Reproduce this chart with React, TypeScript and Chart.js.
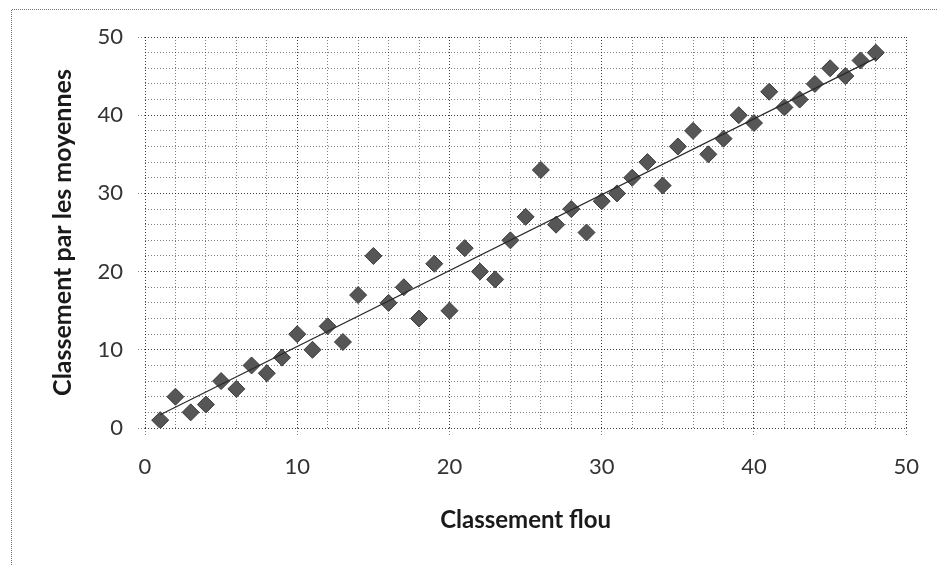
import React, { useEffect, useRef } from "react";
import { Chart, registerables } from "chart.js";
Chart.register(...registerables);

// Data
const rankFlou = [
  1, 2, 3, 4, 5, 6, 7, 8, 9, 10, 11, 12, 13, 14, 15, 16, 17, 18, 19, 20, 21, 22, 23, 24,
  25, 26, 27, 28, 29, 30, 31, 32, 33, 34, 35, 36, 37, 38, 39, 40, 41, 42, 43, 44, 45, 46, 47, 48,
];
const rankMoyennes = [
  1, 4, 2, 3, 6, 5, 8, 7, 9, 12, 10, 13, 11, 17, 22, 16, 18, 14, 21, 15, 23, 20, 19, 24,
  27, 33, 26, 28, 25, 29, 30, 32, 34, 31, 36, 38, 35, 37, 40, 39, 43, 41, 42, 44, 46, 45, 47, 48,
];
const trendX = [1, 48];
const trendY = [1.7, 47.3];
const axisMin = 0;
const axisMax = 50;
const gridStep = 2;
const labelStep = 10;
const xTitle = "Classement flou";
const yTitle = "Classement par les moyennes";

const MAJOR = "rgba(0,0,0,0.75)";
const MINOR = "rgba(0,0,0,0.5)";

export default function App() {
  const ref = useRef<HTMLCanvasElement>(null);

  useEffect(() => {
    if (!ref.current) return;
    const framePlugin = {
      id: "frame",
      beforeDraw(chart: any) {
        const c = chart.ctx;
        c.save();
        c.fillStyle = "#ffffff";
        c.fillRect(0, 0, chart.width, chart.height);
        c.strokeStyle = "rgba(0,0,0,0.55)";
        c.lineWidth = 1;
        c.setLineDash([1, 1]);
        c.beginPath();
        c.moveTo(11.5, chart.height);
        c.lineTo(11.5, 9.5);
        c.lineTo(chart.width, 9.5);
        c.stroke();
        c.restore();
      },
    };

    const isMajor = (ctx: any) => ctx.tick && Math.round(ctx.tick.value) % labelStep === 0;
    const gridColor = (ctx: any) => (isMajor(ctx) ? MAJOR : MINOR);
    const tickColor = (ctx: any) => (isMajor(ctx) ? MINOR : "rgba(0,0,0,0)");
    const labelCb = (v: any) => (Math.round(Number(v)) % labelStep === 0 ? String(v) : "");

    const tickFont = { family: "Lato", size: 22 };

    const chart = new Chart(ref.current, {
      type: "scatter",
      data: {
        datasets: [
          {
            type: "line",
            data: trendX.map((x, i) => ({ x, y: trendY[i] })),
            borderColor: "#2a2a2a",
            borderWidth: 1.2,
            pointRadius: 0,
            fill: false,
            showLine: true,
          } as any,
          {
            data: rankFlou.map((x, i) => ({ x, y: rankMoyennes[i] })),
            pointStyle: "rectRot",
            pointRadius: 8.5,
            backgroundColor: "#565656",
            borderColor: "#3c3c3c",
            borderWidth: 1,
          },
        ],
      },
      options: {
        responsive: false,
        animation: false,
        devicePixelRatio: 1,
        layout: { padding: { top: 37, right: 29, left: 0, bottom: 0 } },
        plugins: { legend: { display: false }, tooltip: { enabled: false } },
        scales: {
          x: {
            type: "linear",
            min: axisMin,
            max: axisMax,
            afterFit: (s: any) => {
              s.height = 137;
            },
            ticks: {
              stepSize: gridStep,
              autoSkip: false,
              maxRotation: 0,
              callback: labelCb,
              font: tickFont,
              color: "#333",
              padding: 19,
            },
            grid: {
              color: gridColor,
              tickColor: tickColor,
              tickLength: 7,
              lineWidth: 1,
              tickBorderDash: [1, 2],
            },
            border: { display: false, dash: [1, 2] },
            title: {
              display: true,
              text: xTitle,
              font: { family: "Lato", size: 24, weight: "bold" },
              color: "#1a1a1a",
              padding: { top: 0, bottom: 30 },
            },
          },
          y: {
            type: "linear",
            min: axisMin,
            max: axisMax,
            afterFit: (s: any) => {
              s.width = 145;
            },
            ticks: {
              stepSize: gridStep,
              autoSkip: false,
              callback: labelCb,
              font: tickFont,
              color: "#333",
              padding: 15,
            },
            grid: {
              color: gridColor,
              tickColor: tickColor,
              tickLength: 7,
              lineWidth: 1,
              tickBorderDash: [1, 2],
            },
            border: { display: false, dash: [1, 2] },
            title: {
              display: true,
              text: yTitle,
              font: { family: "Lato", size: 25, weight: "bold" },
              color: "#1a1a1a",
              padding: { top: 48, bottom: 0 },
            },
          },
        },
      },
      plugins: [framePlugin],
    });
    return () => chart.destroy();
  }, []);

  return (
    <div style={{ position: "fixed", left: 0, top: 0, width: 938, height: 565, background: "#fff" }}>
      <canvas ref={ref} width={938} height={565} style={{ display: "block", width: 938, height: 565 }} />
    </div>
  );
}
